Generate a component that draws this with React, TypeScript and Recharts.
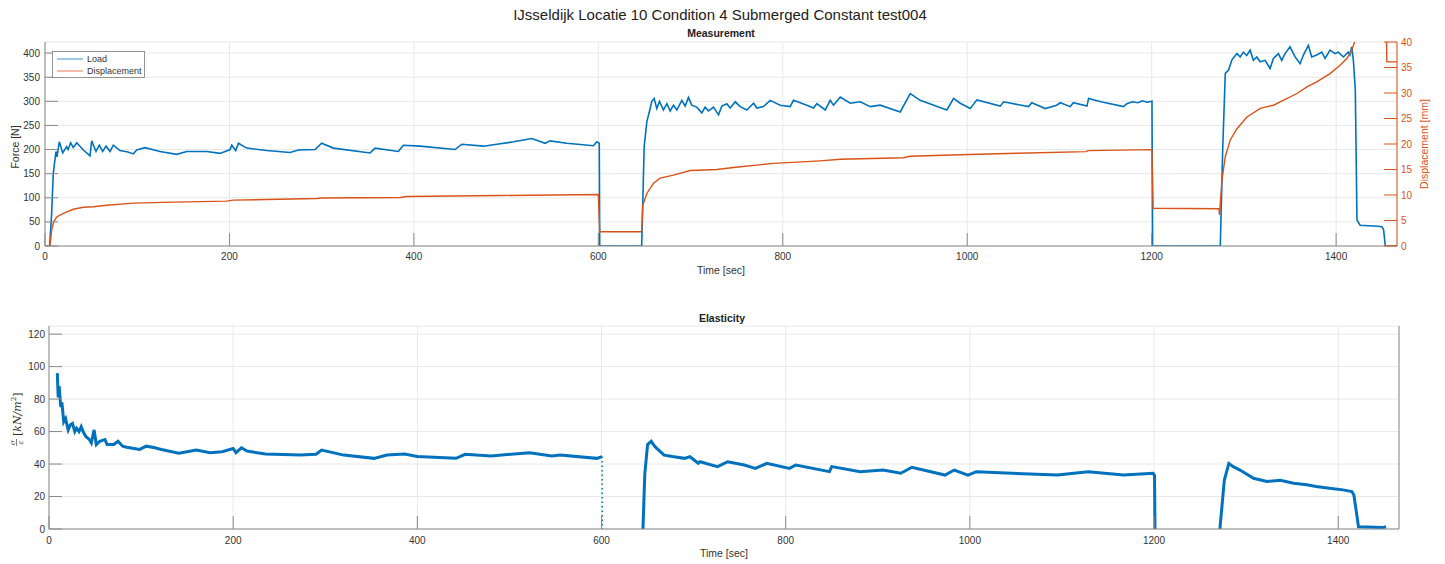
import React from 'react';
import { LineChart, Line, XAxis, YAxis, CartesianGrid } from 'recharts';

const FONT = '"Liberation Sans", Arial, Helvetica, sans-serif';
const BLUE = '#0072BD';
const ORANGE = '#D95319';
const AXIS = '#8a8a8a';
const LABEL = '#333333';

const xTicks = [0, 200, 400, 600, 800, 1000, 1200, 1400];
const forceTicks = [0, 50, 100, 150, 200, 250, 300, 350, 400];
const dispTicks = [0, 5, 10, 15, 20, 25, 30, 35, 40];
const elasTicks = [0, 20, 40, 60, 80, 100, 120];

// Load [N] vs time [sec]
const loadSeries: [number, number][] = [
  [0, 0], [5, 0], [7, 60], [9, 151], [11.9, 196], [13, 185], [15.5, 216], [19.2, 193], [23.5, 206], [25, 200],
  [27.8, 214], [30.7, 204], [34.4, 214], [41.6, 199], [48.8, 187], [50.6, 218], [55.3, 196], [58.9, 209],
  [62.5, 196], [66.2, 207], [70.5, 196], [74.1, 209], [81.3, 198], [90, 195], [95.8, 191], [99.4, 199],
  [108.5, 204], [124.7, 196], [142.8, 190], [153.7, 196], [175.4, 196], [189.8, 192], [200.7, 200],
  [202.5, 209], [206.8, 198], [209.7, 213], [218.7, 203], [240.4, 198], [265.7, 194], [274.8, 199],
  [292.8, 200], [300, 213], [312.7, 203], [352.5, 193], [357.9, 203], [383.2, 196], [388.6, 209],
  [406.7, 207], [444.7, 200], [451.9, 211], [475.4, 207], [489.9, 211], [508, 216], [527.9, 223],
  [542.3, 213], [547.7, 218], [565.8, 213], [594.7, 208], [598.3, 216], [601, 213], [601.5, 0], [647, 0],
  [649.7, 206], [652.6, 258], [655.4, 279], [658, 300], [660.5, 306], [663.4, 285], [666.3, 300],
  [670.6, 282], [674.3, 295], [677.9, 280], [681.5, 292], [685.1, 282], [690.5, 302], [694.1, 290],
  [697.7, 308], [701.3, 292], [706.7, 288], [712.2, 276], [715.8, 288], [719.4, 280], [724.9, 288],
  [730.3, 272], [733.9, 290], [739.3, 295], [743, 286], [748.4, 299], [753.8, 289], [761, 282],
  [768.3, 296], [771.9, 286], [779.1, 289], [786.3, 302], [797.2, 292], [808, 289], [811.6, 302],
  [826.1, 292], [833.3, 286], [836.9, 295], [846, 282], [851.4, 302], [855, 292], [862.3, 309],
  [873.1, 296], [884, 299], [894.8, 289], [905.6, 292], [927.3, 278], [938.2, 316], [949, 302],
  [977.9, 282], [985.2, 306], [992.4, 296], [1003.3, 285], [1010.5, 303], [1035.8, 290], [1039.4, 299],
  [1066.5, 289], [1070, 297], [1084.6, 285], [1097, 292], [1100.9, 297], [1111.7, 289], [1115, 297],
  [1129.8, 290], [1131.6, 306], [1145, 299], [1169.5, 289], [1173, 295], [1179, 299], [1185, 297],
  [1190, 301], [1195, 298], [1200.3, 300], [1201, 0], [1274.4, 0], [1277, 200], [1279.8, 358],
  [1283.4, 365], [1287, 386], [1292.5, 399], [1295.9, 392], [1299.5, 402], [1303.1, 395], [1306.7, 406],
  [1310.3, 385], [1314, 392], [1317.6, 382], [1323, 385], [1328.4, 368], [1332, 389], [1337.4, 399],
  [1341, 385], [1344.6, 399], [1350, 413], [1355.5, 392], [1360.9, 378], [1364.5, 396], [1369.9, 416],
  [1373.5, 392], [1378.9, 396], [1384.4, 402], [1388, 389], [1393.4, 406], [1398.8, 399], [1402.4, 402],
  [1407.8, 392], [1413.2, 402], [1415, 396], [1416.9, 413], [1418.7, 385], [1420.8, 323], [1422.6, 54],
  [1426, 43], [1435, 42], [1445, 41], [1449.7, 40], [1451.5, 33], [1453.3, 0], [1466, 0],
];

// Displacement [mm] vs time [sec]
const dispSeries: [number, number][] = [
  [0, 0], [5.4, 0], [7.2, 3.1], [9.5, 4.8], [12.7, 5.7], [19.9, 6.4], [30.7, 7.2], [41.6, 7.6], [52.4, 7.7],
  [66.9, 8.0], [95.8, 8.4], [139.2, 8.6], [197, 8.8], [204, 9.0], [294.7, 9.3], [300, 9.4], [385, 9.5],
  [392, 9.7], [493.5, 9.9], [600, 10.1], [601.5, 2.8], [647, 2.8], [648.2, 8.0], [652.6, 10.3],
  [659.8, 12.3], [667, 13.3], [681.5, 13.9], [699.6, 14.8], [728.5, 15.0], [746.5, 15.4], [790, 16.2],
  [840.6, 16.7], [862.3, 17.0], [931, 17.3], [938, 17.6], [992.4, 17.9], [1053.9, 18.2], [1129, 18.5],
  [1131, 18.7], [1200.3, 18.9], [1201.5, 7.4], [1273, 7.3], [1273.5, 6.1], [1276.2, 12.9], [1279.8, 17.5],
  [1285.2, 20.8], [1292.5, 23], [1303.3, 25.3], [1317.8, 27], [1332, 27.6], [1343, 28.6], [1357.6, 29.9],
  [1368.4, 31.2], [1379, 32.2], [1393.4, 33.8], [1404.6, 35.5], [1411.8, 36.8], [1417, 38.4], [1420, 40],
  [1425, 42], [1454.5, 42], [1455, 36.1], [1466, 36.1],
];

// Elasticity sigma/eps [kN/m^2] vs time [sec]
const elasSeries: [number, number | null][] = [
  [9, 96], [10, 81], [11, 88], [12.8, 75], [14, 78], [16, 66], [18, 68], [20.8, 61], [23, 64], [25.5, 65],
  [28, 60], [30, 62], [32.6, 60], [35, 63], [37, 60], [40, 57], [44, 55], [46, 53], [49, 61], [51.4, 52],
  [55, 54], [60.8, 55], [63, 52], [70.3, 52], [75, 54], [80, 51], [84.4, 50.3], [98.5, 49], [105.6, 51],
  [115, 50], [122, 49], [141, 46.6], [160, 48.6], [175, 47], [188, 47.6], [200, 49.6], [203, 47],
  [209, 50], [215, 48], [235, 46.2], [273, 45.5], [290, 46], [296, 48.6], [320, 45.5], [353, 43.5],
  [367, 45.5], [386, 46.2], [400, 44.6], [442, 43.5], [452, 46], [480, 45], [522, 47], [546, 45],
  [555, 45.5], [595, 43.5], [600.5, 44.6], [620, null], [645, 0], [647, 34], [650, 52], [654, 54],
  [658, 50.7], [668, 45.5], [677, 44.6], [690, 43.5], [696, 44.5], [705, 40.5], [707, 41.4], [726, 38.4],
  [737, 41.4], [755, 39.4], [767, 37.3], [779.5, 40.4], [804, 37.3], [811, 39.4], [847.5, 35.3],
  [850, 38.4], [881, 35.3], [905.5, 36.3], [925, 34.3], [937, 38], [973, 33.2], [983, 36.3], [998, 33.2],
  [1007, 35.3], [1046, 34.3], [1095, 33.2], [1128.5, 35.3], [1167, 33.2], [1199, 34.3], [1200.5, 33],
  [1201, 0], [1230, null], [1271.5, 0], [1276.3, 30], [1281.2, 40.4], [1286, 38.4], [1293.3, 36.3],
  [1308, 31.2], [1322.5, 29.2], [1337, 30], [1351.6, 28.2], [1366, 27.2], [1376, 26.2], [1390.5, 25.1],
  [1405, 24.1], [1414.8, 23.1], [1417, 21], [1422, 1.4], [1448.5, 1], [1452, 1.4],
];

// thin dotted drop of the elasticity trace at the first unloading
const elasDrops: [number, number | null][] = [
  [600.6, 44.6], [600.8, 0],
];

const toRows = (s: [number, number | null][]) => s.map(([t, v]) => ({ t, v }));

const tickStyle = { fill: LABEL, fontSize: 10, fontFamily: FONT };

export default function App() {
  const loadRows = toRows(loadSeries);
  const dispRows = toRows(dispSeries);
  const elasRows = toRows(elasSeries);
  const dropRows = toRows(elasDrops);

  return (
    <div style={{ position: 'absolute', left: 0, top: 0, width: 1445, height: 564, background: '#fff', fontFamily: FONT }}>
      <div style={{ position: 'absolute', left: 0, top: 0 }}>
        <LineChart width={1445} height={290} margin={{ top: 42, right: 0, bottom: 14, left: 0 }}>
          <CartesianGrid yAxisId="left" stroke="#e8e8e8" />
          <XAxis dataKey="t" type="number" domain={[0, 1466]} ticks={xTicks} interval={0} allowDataOverflow
            height={30} tickSize={-13} tickMargin={20} stroke={AXIS} tick={tickStyle} />
          <XAxis xAxisId="top" orientation="top" type="number" domain={[0, 1466]} ticks={xTicks} interval={0}
            height={0} tickSize={-13} stroke={AXIS} tickFormatter={() => ''} />
          <YAxis yAxisId="left" type="number" domain={[0, 423]} ticks={forceTicks} interval={0} allowDataOverflow
            width={45} tickSize={-13} tickMargin={18} stroke={AXIS} tick={tickStyle} />
          <YAxis yAxisId="right" orientation="right" type="number" domain={[0, 40]} ticks={dispTicks} interval={0}
            allowDataOverflow width={48} tickSize={-13} tickMargin={17} stroke={ORANGE}
            tick={{ ...tickStyle, fill: ORANGE }} />
          <Line yAxisId="left" data={loadRows} dataKey="v" stroke={BLUE} strokeWidth={1.6} dot={false}
            isAnimationActive={false} />
          <Line yAxisId="right" data={dispRows} dataKey="v" stroke={ORANGE} strokeWidth={1.4} dot={false}
            isAnimationActive={false} />
        </LineChart>
      </div>

      <div style={{ position: 'absolute', left: 0, top: 290 }}>
        <LineChart width={1445} height={274} margin={{ top: 36, right: 0, bottom: 5, left: 0 }}>
          <CartesianGrid yAxisId="left" stroke="#e8e8e8" />
          <XAxis dataKey="t" type="number" domain={[0, 1466]} ticks={xTicks} interval={0} allowDataOverflow
            height={30} tickSize={-13} tickMargin={21} stroke={AXIS} tick={tickStyle} />
          <XAxis xAxisId="top" orientation="top" type="number" domain={[0, 1466]} ticks={xTicks} interval={0}
            height={0} tickSize={-13} stroke={AXIS} tickFormatter={() => ''} />
          <YAxis yAxisId="left" type="number" domain={[0, 125]} ticks={elasTicks} interval={0} allowDataOverflow
            width={49} tickSize={-13} tickMargin={17} stroke={AXIS} tick={tickStyle} />
          <YAxis yAxisId="right" orientation="right" type="number" domain={[0, 125]} ticks={elasTicks} interval={0}
            width={46} tickSize={-13} stroke={AXIS} tickFormatter={() => ''} />
          <Line yAxisId="left" data={elasRows} dataKey="v" stroke={BLUE} strokeWidth={3} dot={false}
            isAnimationActive={false} />
          <Line yAxisId="left" data={dropRows} dataKey="v" stroke={BLUE} strokeWidth={1.5} strokeDasharray="1.5 3"
            dot={false} isAnimationActive={false} />
        </LineChart>
      </div>

      <svg width={1445} height={564} style={{ position: 'absolute', left: 0, top: 0, pointerEvents: 'none' }}>
        <g fontFamily={FONT} fill={LABEL}>
          <text x={720} y={14} textAnchor="middle" dominantBaseline="central" fontSize={15} fill="#222">
            IJsseldijk Locatie 10 Condition 4 Submerged Constant test004
          </text>
          <text x={721} y={33} textAnchor="middle" dominantBaseline="central" fontSize={10.5} fontWeight="bold" fill="#222">
            Measurement
          </text>
          <text x={722} y={318} textAnchor="middle" dominantBaseline="central" fontSize={10.5} fontWeight="bold" fill="#222">
            Elasticity
          </text>
          <text x={721} y={270} textAnchor="middle" dominantBaseline="central" fontSize={10.5}>Time [sec]</text>
          <text x={724} y={553} textAnchor="middle" dominantBaseline="central" fontSize={10.5}>Time [sec]</text>
          <text transform="translate(15,147) rotate(-90)" textAnchor="middle" dominantBaseline="central" fontSize={10.5}>
            Force [N]
          </text>
          <text transform="translate(1424,144) rotate(-90)" textAnchor="middle" dominantBaseline="central"
            fontSize={10.5} fill={ORANGE}>
            Displacement [mm]
          </text>
        </g>

        <g transform="translate(17,421) rotate(-90)" fill={LABEL} fontFamily='"DejaVu Serif", "Liberation Serif", serif'>
          <text x={-21.5} y={-2.5} textAnchor="middle" fontSize={7} fontStyle="italic">σ</text>
          <line x1={-25} x2={-18} y1={-0.5} y2={-0.5} stroke={LABEL} strokeWidth={0.6} />
          <text x={-21.5} y={6} textAnchor="middle" fontSize={7} fontStyle="italic">ε</text>
          <text x={-15} y={4} fontSize={11}>
            <tspan>[</tspan>
            <tspan fontStyle="italic">kN/m</tspan>
            <tspan fontSize={7} dy={-5}>2</tspan>
            <tspan dy={5}>]</tspan>
          </text>
        </g>

        <g fontFamily={FONT}>
          <rect x={52.5} y={51.5} width={92} height={26} fill="#fff" stroke="#7a7a7a" strokeWidth={0.8} />
          <line x1={57} x2={83} y1={59} y2={59} stroke={BLUE} strokeWidth={1} opacity={0.75} />
          <line x1={57} x2={83} y1={71} y2={71} stroke={ORANGE} strokeWidth={1} opacity={0.75} />
          <text x={87} y={59} dominantBaseline="central" fontSize={9} fill={LABEL}>Load</text>
          <text x={87} y={71} dominantBaseline="central" fontSize={9} fill={LABEL}>Displacement</text>
        </g>
      </svg>
    </div>
  );
}
